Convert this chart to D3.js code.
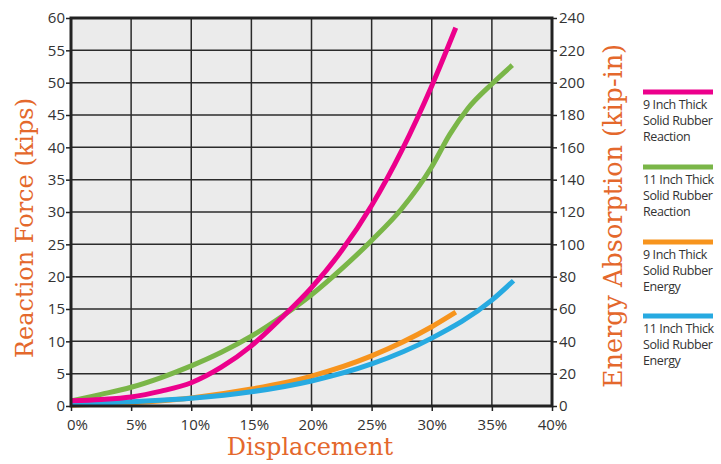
<!DOCTYPE html>
<html>
<head>
<meta charset="utf-8">
<script src="https://cdn.jsdelivr.net/npm/d3@7"></script>
<style>
  body { margin: 0; background: #fff; }
  svg text { font-family: "Open Sans", "Noto Sans", sans-serif; }
</style>
</head>
<body>
<script>
// displacement (%) and values
const pinkX   = [0, 2.5, 5, 7.5, 10, 12.5, 15, 17.5, 20, 22.5, 25, 27.5, 30, 32];
const pinkY   = [0.8, 1.0, 1.4, 2.3, 3.6, 6.0, 9.3, 13.6, 18.3, 24, 31, 39.5, 49.5, 58.5];
const greenX  = [0, 2.5, 5, 7.5, 10, 12.5, 15, 17.5, 20, 22.5, 25, 27.5, 30, 31.5, 33, 35, 36.7];
const greenY  = [0.8, 1.8, 2.9, 4.4, 6.2, 8.3, 10.8, 13.8, 17.2, 21.2, 25.6, 30.5, 37, 42, 46, 49.8, 52.7];
const orangeX = [0, 5, 10, 15, 20, 25, 30, 32];
const orangeY = [0.5, 2, 5, 10.5, 18.5, 31, 49, 58];   // kip-in
const blueX   = [0, 5, 10, 15, 20, 25, 30, 35, 36.8];
const blueY   = [1, 2.7, 4.8, 8.8, 15.5, 26, 42, 65.5, 77.5]; // kip-in

const xTicks = [0, 5, 10, 15, 20, 25, 30, 35, 40];
const yTicks = [0, 5, 10, 15, 20, 25, 30, 35, 40, 45, 50, 55, 60];
const y2Ticks = [0, 20, 40, 60, 80, 100, 120, 140, 160, 180, 200, 220, 240];

const legendLabels = [
  ['9 Inch Thick', 'Solid Rubber', 'Reaction'],
  ['11 Inch Thick', 'Solid Rubber', 'Reaction'],
  ['9 Inch Thick', 'Solid Rubber', 'Energy'],
  ['11 Inch Thick', 'Solid Rubber', 'Energy']
];
const colors = ['#ec008c', '#7ab648', '#f7941d', '#27aae1'];

const w = 721, h = 464;
const pLeft = 71, pRight = 552, pTop = 18, pBottom = 406;

const x = d3.scaleLinear().domain([0, 40]).range([pLeft, pRight]);
const y = d3.scaleLinear().domain([0, 60]).range([pBottom, pTop]);
const y2 = d3.scaleLinear().domain([0, 240]).range([pBottom, pTop]);

const svg = d3.select('body').append('svg').attr('width', w).attr('height', h);

svg.append('rect')
   .attr('x', pLeft).attr('y', pTop)
   .attr('width', pRight - pLeft).attr('height', pBottom - pTop)
   .attr('fill', '#ebebeb');

// grid
svg.append('g').selectAll('line')
   .data(xTicks.slice(1, -1)).enter().append('line')
   .attr('x1', d => x(d)).attr('x2', d => x(d))
   .attr('y1', pTop).attr('y2', pBottom)
   .attr('stroke', '#2b2b2b').attr('stroke-width', 1.5);
svg.append('g').selectAll('line')
   .data(yTicks.slice(1, -1)).enter().append('line')
   .attr('x1', pLeft).attr('x2', pRight)
   .attr('y1', d => y(d)).attr('y2', d => y(d))
   .attr('stroke', '#2b2b2b').attr('stroke-width', 1.5);

// series
const line = d3.line().x(d => x(d[0])).y(d => d[1]).curve(d3.curveMonotoneX);
const series = [
  pinkX.map((v, i) => [v, y(pinkY[i])]),
  greenX.map((v, i) => [v, y(greenY[i])]),
  orangeX.map((v, i) => [v, y2(orangeY[i])]),
  blueX.map((v, i) => [v, y2(blueY[i])])
];
const order = [2, 3, 1, 0];
order.forEach(i => {
  svg.append('path')
     .attr('d', line(series[i]))
     .attr('fill', 'none')
     .attr('stroke', colors[i])
     .attr('stroke-width', 5)
     .attr('stroke-linecap', 'butt');
});

// axes
const xAxis = d3.axisBottom(x).tickValues(xTicks).tickFormat(d => d + '%').tickSize(5).tickSizeOuter(0);
const yAxis = d3.axisLeft(y).tickValues(yTicks).tickSize(5).tickSizeOuter(0);
const y2Axis = d3.axisRight(y2).tickValues(y2Ticks).tickSize(5).tickSizeOuter(0);

const gx = svg.append('g').attr('transform', 'translate(0,' + pBottom + ')').call(xAxis);
const gy = svg.append('g').attr('transform', 'translate(' + pLeft + ',0)').call(yAxis);
const gy2 = svg.append('g').attr('transform', 'translate(' + pRight + ',0)').call(y2Axis);
[gx, gy, gy2].forEach(g => {
  g.select('.domain').remove();
  g.selectAll('line').attr('stroke', '#222').attr('stroke-width', 1.5);
  g.selectAll('text').attr('fill', '#333').style('font-size', '15px')
   .style('font-family', '"Open Sans", sans-serif');
});
// labels on the left half sit a bit right of their ticks in the original
gx.selectAll('text').attr('dy', '1.05em').attr('dx', d => Math.max(0, 6 * (1 - d / 25)));
gy.selectAll('text').attr('x', -6);
gy2.selectAll('text').attr('x', 7);

// frame
svg.append('rect')
   .attr('x', pLeft).attr('y', pTop)
   .attr('width', pRight - pLeft).attr('height', pBottom - pTop)
   .attr('fill', 'none').attr('stroke', '#222').attr('stroke-width', 3);

// axis titles
const titleColor = '#e4682c';
svg.append('text').text('Displacement')
   .attr('x', 310).attr('y', 455).attr('text-anchor', 'middle')
   .attr('fill', titleColor).style('font-family', '"DejaVu Serif", serif').style('font-size', '24px');
svg.append('text').text('Reaction Force (kips)')
   .attr('transform', 'translate(33,228)rotate(-90)').attr('text-anchor', 'middle')
   .attr('fill', titleColor).style('font-family', '"DejaVu Serif", serif').style('font-size', '24px');
svg.append('text').text('Energy Absorption (kip-in)')
   .attr('transform', 'translate(622,216)rotate(-90)').attr('text-anchor', 'middle')
   .attr('fill', titleColor).style('font-family', '"DejaVu Serif", serif').style('font-size', '25.5px');

// legend
const legY = [92, 167, 242, 316];
legendLabels.forEach((lab, i) => {
  svg.append('line')
     .attr('x1', 643).attr('x2', 713)
     .attr('y1', legY[i]).attr('y2', legY[i])
     .attr('stroke', colors[i]).attr('stroke-width', 5);
  lab.forEach((t, j) => {
    svg.append('text').text(t)
       .attr('x', 643).attr('y', legY[i] + 17 + j * 16)
       .attr('fill', '#333').style('font-size', '12.5px')
       .style('letter-spacing', '-0.4px');
  });
});
</script>
</body>
</html>
